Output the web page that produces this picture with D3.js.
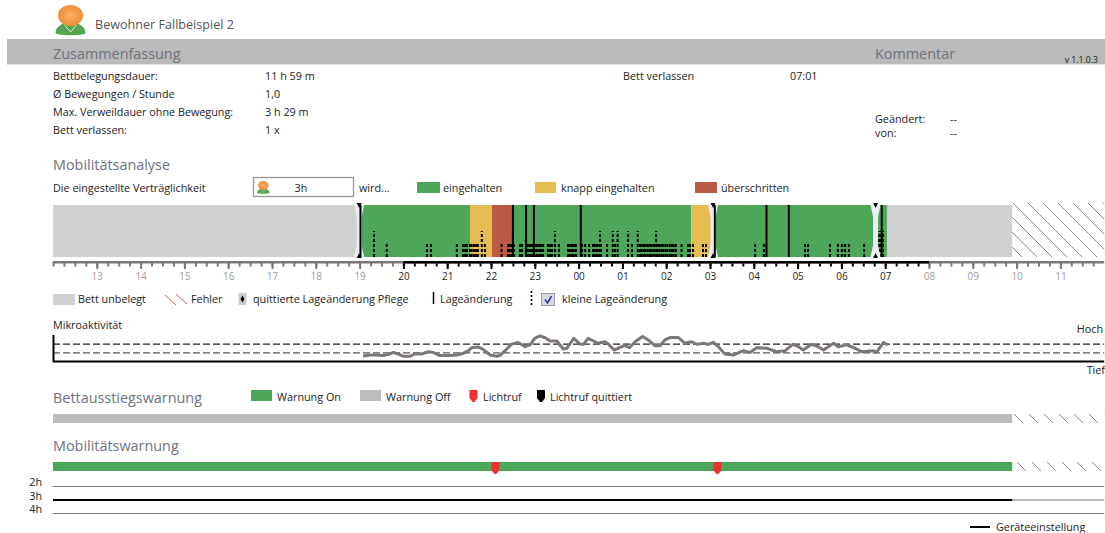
<!DOCTYPE html>
<html>
<head>
<meta charset="utf-8">
<script src="https://cdn.jsdelivr.net/npm/d3@7"></script>
<style>
  html, body { margin: 0; padding: 0; background: #fff; }
  svg { display: block; font-family: "Open Sans", sans-serif; }
</style>
</head>
<body>
<div id="chart"></div>
<script>
// hours run on from noon: 12..36, 25 = 01:00
const hourTicks = d3.range(13, 36);
const activeHours = [20, 32];

const stateSegments = [
    [12, 19, 'empty'], [19, 21.52, 'ok'], [21.52, 22.02, 'near'], [22.02, 22.5, 'over'],
    [22.5, 26.57, 'ok'], [26.57, 27.07, 'near'], [27.07, 31.04, 'ok'], [31.04, 33.9, 'empty']
];
const ackTimes = [18.99, 27.07, 30.78];
const moveTimes = [19.02, 22.5, 22.8, 22.98, 24.05, 27.11, 28.29, 28.8, 30.92];
const smallMovesHigh = [19.33, 21.79, 22.5, 23.46, 24.49, 24.78, 24.89, 25.13, 25.35, 25.77, 30.81, 30.86, 30.9, 30.95];
const smallMovesLow = [
    19.62, 20.54, 20.63, 21.22, 21.36, 21.41, 21.45, 21.52, 21.56, 21.61, 21.66, 21.7, 21.86, 22.24,
    22.39, 22.43, 22.48, 22.52, 22.66, 22.71, 22.82, 22.87, 22.91, 22.96, 23, 23.05, 23.1, 23.14, 23.19,
    23.3, 23.35, 23.39, 23.55, 23.76, 23.8, 23.85, 23.89, 23.94, 24.08, 24.15, 24.24, 24.33, 24.37,
    24.42, 24.47, 24.51, 24.65, 24.83, 25.22, 25.4, 25.44, 25.49, 25.53, 25.58, 25.63, 25.67, 25.72,
    25.81, 25.85, 25.9, 25.94, 25.99, 26.03, 26.08, 26.13, 26.17, 26.22, 26.35, 26.5, 26.54, 26.61,
    26.84, 26.91, 28.03, 28.23, 29.17, 29.24, 29.74, 29.92, 30.01, 30.08, 30.17, 30.52
];

const microHours = [
    19.08, 19.24, 19.39, 19.54, 19.69, 19.77, 19.88, 20, 20.15, 20.26, 20.42, 20.57, 20.68, 20.83, 21.06, 21.22,
    21.37, 21.48, 21.56, 21.71, 21.82, 21.98, 22.13, 22.2, 22.36, 22.47, 22.62, 22.78, 22.89, 23, 23.12, 23.23,
    23.35, 23.5, 23.65, 23.73, 23.89, 24.03, 24.11, 24.22, 24.34, 24.45, 24.6, 24.68, 24.81, 24.98, 25.06, 25.16,
    25.29, 25.46, 25.59, 25.74, 25.86, 25.97, 26.09, 26.28, 26.43, 26.58, 26.7, 26.85, 26.96, 27.08, 27.19, 27.34,
    27.53, 27.76, 27.91, 28.07, 28.29, 28.52, 28.71, 28.89, 29.02, 29.13, 29.32, 29.47, 29.59, 29.82, 29.93, 30.12,
    30.31, 30.46, 30.73, 30.8, 30.96, 31.06
];
const microValues = [
    19, 23, 23, 21, 27, 33, 27, 18, 18, 27, 27, 36, 33, 21, 21, 23,
    30, 39, 51, 54, 45, 23, 18, 21, 46, 65, 71, 55, 62, 87, 97, 90,
    77, 77, 46, 49, 87, 65, 64, 87, 77, 68, 74, 65, 42, 55, 59, 51,
    74, 94, 81, 59, 59, 81, 90, 90, 68, 74, 64, 68, 64, 72, 55, 27,
    23, 40, 33, 51, 49, 36, 39, 64, 55, 42, 64, 55, 42, 68, 55, 62,
    49, 36, 39, 33, 71, 62
];
const microLevels = [65, 31];

const nurseCalls = [22.1, 27.17];
const warnLevels = ['2h', '3h', '4h'];
const summaryLabels = ['Bettbelegungsdauer:', 'Ø Bewegungen / Stunde', 'Max. Verweildauer ohne Bewegung:', 'Bett verlassen:'];
const summaryValues = ['11 h 59 m', '1,0', '3 h 29 m', '1 x'];

const colors = { ok: '#4da65a', near: '#e5bc52', over: '#bb5a42', empty: '#cfd0cf', off: '#bbbcbb', head: '#6f7280', ink: '#222', tick: '#7d7679' };
const bodySize = 10.8, headSize = 14.4;

const width = 1105, height = 533;
const svg = d3.select('#chart').append('svg').attr('width', width).attr('height', height);
const x = d3.scaleLinear().domain([12, 36]).range([53, 1104.2]);
const yMicro = d3.scaleLinear().domain([0, 100]).range([361, 335]);
const dataEnd = x(33.9);

const defs = svg.append('defs');
const hatch = defs.append('pattern').attr('id', 'hatch').attr('patternUnits', 'userSpaceOnUse')
    .attr('width', 15).attr('height', 15);
hatch.append('path').attr('d', 'M-1,-1L16,16M-1,14L1,16M14,-1L16,1').attr('stroke', '#808080').attr('stroke-width', 0.9);
const skin = defs.append('radialGradient').attr('id', 'skin');
skin.append('stop').attr('offset', '0%').attr('stop-color', '#fbae68');
skin.append('stop').attr('offset', '100%').attr('stop-color', '#ee8f3a');

function label(s, px, py, size, fill, anchor) {
    return svg.append('text').attr('x', px).attr('y', py).attr('dy', '0.35em')
        .attr('font-size', size).attr('fill', fill || colors.ink).attr('text-anchor', anchor || 'start').text(s);
}
function swatch(px, py, w, h, fill) {
    return svg.append('rect').attr('x', px).attr('y', py).attr('width', w).attr('height', h).attr('fill', fill);
}
function avatar(px, py, k) {
    const g = svg.append('g').attr('transform', `translate(${px},${py}) scale(${k})`);
    g.append('path').attr('d', 'M0,28C0,21 7,20 9,17H21C23,20 30,21 30,28C30,31 0,31 0,28Z').attr('fill', '#55a552');
    g.append('path').attr('d', 'M9,20L15,27L21,20').attr('fill', 'none').attr('stroke', '#d7ecd0').attr('stroke-width', 1);
    g.append('ellipse').attr('cx', 15).attr('cy', 10.5).attr('rx', 12.5).attr('ry', 10.5).attr('fill', 'url(#skin)');
}
function marker(px, py, fill) {
    svg.append('path').attr('d', `M${px - 4},${py}h8v8l-3,4h-2l-3,-4Z`).attr('fill', fill);
}

// header
avatar(55.5, 5, 1);
label('Bewohner Fallbeispiel 2', 95, 25, 12.6, '#555');
swatch(7, 39, 1098, 25.5, '#b9bab9');
label('Zusammenfassung', 53, 54, headSize, colors.head);
label('Kommentar', 875, 54, headSize, colors.head);
label('v 1.1.0.3', 1098, 60, 8.7, colors.ink, 'end');

summaryLabels.forEach((s, i) => label(s, 53, 76.5 + i * 18, bodySize));
summaryValues.forEach((s, i) => label(s, 265, 76.5 + i * 18, bodySize));
label('Bett verlassen', 623, 76.5, bodySize);
label('07:01', 790, 76.5, bodySize);
label('Geändert:', 875, 119.5, bodySize);
label('--', 950, 119.5, bodySize);
label('von:', 875, 133.5, bodySize);
label('--', 950, 133.5, bodySize);

// mobility analysis head row
label('Mobilitätsanalyse', 53, 165, headSize, colors.head);
label('Die eingestellte Verträglichkeit', 53, 188, bodySize);
svg.append('rect').attr('x', 253.5).attr('y', 177.5).attr('width', 100).attr('height', 19)
    .attr('fill', '#fff').attr('stroke', '#999').attr('stroke-width', 1.3);
avatar(257, 181, 0.42);
label('3h', 301, 188, bodySize, colors.ink, 'middle');
label('wird...', 359, 188, bodySize);
swatch(417, 182, 23, 11, colors.ok);
label('eingehalten', 443, 188, bodySize);
swatch(535, 182, 21, 11, colors.near);
label('knapp eingehalten', 561, 188, bodySize);
swatch(695, 182, 22, 11, colors.over);
label('überschritten', 721, 188, bodySize);

// main state band
const barTop = 205, barBottom = 257;
svg.append('g').selectAll('rect').data(stateSegments).join('rect')
    .attr('x', d => x(d[0])).attr('width', d => x(d[1]) - x(d[0]))
    .attr('y', barTop).attr('height', barBottom - barTop).attr('fill', d => colors[d[2]]);
swatch(dataEnd, barTop - 2, x(36) - dataEnd, barBottom - barTop + 2, 'url(#hatch)');

// small movements, dotted and growing from the bottom
const dotted = [[smallMovesLow, 243], [smallMovesHigh, 231]];
dotted.forEach(([times, top]) => {
    svg.append('g').selectAll('line').data(times).join('line')
        .attr('x1', d => x(d)).attr('x2', d => x(d)).attr('y1', barBottom).attr('y2', top)
        .attr('stroke', '#000').attr('stroke-width', 2).attr('stroke-dasharray', '3 2');
});

// acknowledged care changes
const ack = svg.append('g').selectAll('g').data(ackTimes).join('g').attr('transform', d => `translate(${x(d)},0)`);
ack.append('path')
    .attr('d', `M-5,${barTop}H5C3.5,${barTop + 8} 2.5,${barTop + 10} 2.5,${barTop + 14}V${barBottom - 14}C2.5,${barBottom - 10} 3.5,${barBottom - 8} 5,${barBottom}H-5C-3.5,${barBottom - 8} -2.5,${barBottom - 10} -2.5,${barBottom - 14}V${barTop + 14}C-2.5,${barTop + 10} -3.5,${barTop + 8} -5,${barTop}Z`)
    .attr('fill', '#eceef2');
ack.append('path').attr('d', `M-2.5,${barTop - 2}h5l-2.5,5Z`).attr('fill', '#000');
ack.append('path').attr('d', `M-2.5,${barBottom + 1}h5l-2.5,-5Z`).attr('fill', '#000');

// position changes
svg.append('g').selectAll('line').data(moveTimes).join('line')
    .attr('x1', d => x(d)).attr('x2', d => x(d)).attr('y1', barTop).attr('y2', barBottom)
    .attr('stroke', '#000').attr('stroke-width', 2);

// time axis
const isActive = h => h >= activeHours[0] && h < activeHours[1];
const axisY = 262;
const minorAxis = svg.append('g').attr('transform', `translate(0,${axisY})`)
    .call(d3.axisBottom(x).tickValues(d3.range(12, 36, 0.25)).tickSize(4.5).tickFormat(''));
const majorAxis = svg.append('g').attr('transform', `translate(0,${axisY})`)
    .call(d3.axisBottom(x).tickValues(hourTicks).tickSize(7).tickPadding(4)
        .tickFormat(h => String(h % 24).padStart(2, '0')));
[minorAxis, majorAxis].forEach(g => {
    g.select('.domain').remove();
    g.selectAll('.tick line').attr('stroke-width', 2).attr('stroke', h => isActive(h) ? '#000' : colors.tick);
});
majorAxis.selectAll('.tick text').attr('font-family', '"Open Sans", sans-serif').attr('font-size', 10)
    .attr('fill', h => isActive(h) ? colors.ink : '#a09c9e');
swatch(53, axisY - 1, x(36) - 53, 2.5, colors.tick);
swatch(x(activeHours[0]), axisY - 1, x(activeHours[1]) - x(activeHours[0]), 2.5, '#000');

// legend row
swatch(53, 294, 22, 11, colors.empty);
label('Bett unbelegt', 78, 299.5, bodySize);
svg.append('path').attr('d', 'M165,295L176,305M176,294L187,304').attr('stroke', '#c9614c').attr('stroke-width', 1).attr('fill', 'none');
label('Fehler', 191, 299.5, bodySize);
swatch(238.5, 293, 8, 12, '#c9ccd6');
svg.append('path').attr('d', 'M242.5,295.5l2,3.5l-2,3.5l-2,-3.5Z').attr('fill', '#000');
label('quittierte Lageänderung Pflege', 253, 299.5, bodySize);
svg.append('line').attr('x1', 433.5).attr('x2', 433.5).attr('y1', 292).attr('y2', 304).attr('stroke', '#000').attr('stroke-width', 1.5);
label('Lageänderung', 440, 299.5, bodySize);
svg.append('line').attr('x1', 531.5).attr('x2', 531.5).attr('y1', 291).attr('y2', 305).attr('stroke', '#000').attr('stroke-width', 1.7).attr('stroke-dasharray', '2 2');
svg.append('rect').attr('x', 541.5).attr('y', 293.5).attr('width', 13).attr('height', 12).attr('fill', '#d5d9e6').attr('stroke', '#9a9caa');
svg.append('path').attr('d', 'M545,299.5l2.5,3.5l4,-7').attr('fill', 'none').attr('stroke', '#2b3fa8').attr('stroke-width', 1.6);
label('kleine Lageänderung', 562, 299.5, bodySize);

// micro activity
label('Mikroaktivität', 53, 325, bodySize);
label('Hoch', 1103, 329, bodySize, colors.ink, 'end');
label('Tief', 1105, 370, bodySize, colors.ink, 'end');
svg.append('g').selectAll('line').data(microLevels).join('line')
    .attr('x1', 53).attr('x2', x(36)).attr('y1', d => yMicro(d)).attr('y2', d => yMicro(d))
    .attr('stroke', (d, i) => i ? '#555' : '#222').attr('stroke-width', 1.2).attr('stroke-dasharray', '7 3');
svg.append('path').attr('d', `M53.5,335V361.5H${x(36)}`).attr('fill', 'none').attr('stroke', '#000').attr('stroke-width', 2);
const microLine = d3.line().x(d => x(d[0])).y(d => yMicro(d[1]));
svg.append('path').datum(d3.zip(microHours, microValues)).attr('d', microLine)
    .attr('fill', 'none').attr('stroke', colors.tick).attr('stroke-width', 3).attr('stroke-linejoin', 'round');

// bed exit warning
label('Bettausstiegswarnung', 53, 398, headSize, colors.head);
swatch(251, 390, 21, 11, colors.ok);
label('Warnung On', 277, 397, bodySize);
swatch(360, 390, 21, 11, colors.off);
label('Warnung Off', 386, 397, bodySize);
marker(473.5, 390, '#ee3030');
label('Lichtruf', 483, 397, bodySize);
marker(541, 390, '#000');
label('Lichtruf quittiert', 550, 397, bodySize);
swatch(53, 414, dataEnd - 53, 9, colors.off);
swatch(dataEnd, 414, x(36) - dataEnd, 9, 'url(#hatch)');

// mobility warning
label('Mobilitätswarnung', 53, 446, headSize, colors.head);
swatch(53, 462, dataEnd - 53, 9, colors.ok);
swatch(dataEnd, 462, x(36) - dataEnd, 9, 'url(#hatch)');
nurseCalls.forEach(h => marker(x(h), 462, '#ee3030'));

warnLevels.forEach((s, i) => {
    const py = [486.5, 500, 513.5][i];
    label(s, 42, py - 4, bodySize, colors.ink, 'end');
    svg.append('line').attr('x1', 53).attr('x2', x(36)).attr('y1', py).attr('y2', py).attr('stroke', '#777').attr('stroke-width', 1);
});
svg.append('line').attr('x1', 53).attr('x2', dataEnd).attr('y1', 500).attr('y2', 500).attr('stroke', '#000').attr('stroke-width', 2);
svg.append('line').attr('x1', 970).attr('x2', 990).attr('y1', 527).attr('y2', 527).attr('stroke', '#000').attr('stroke-width', 2);
label('Geräteeinstellung', 996, 527, bodySize);
</script>
</body>
</html>
